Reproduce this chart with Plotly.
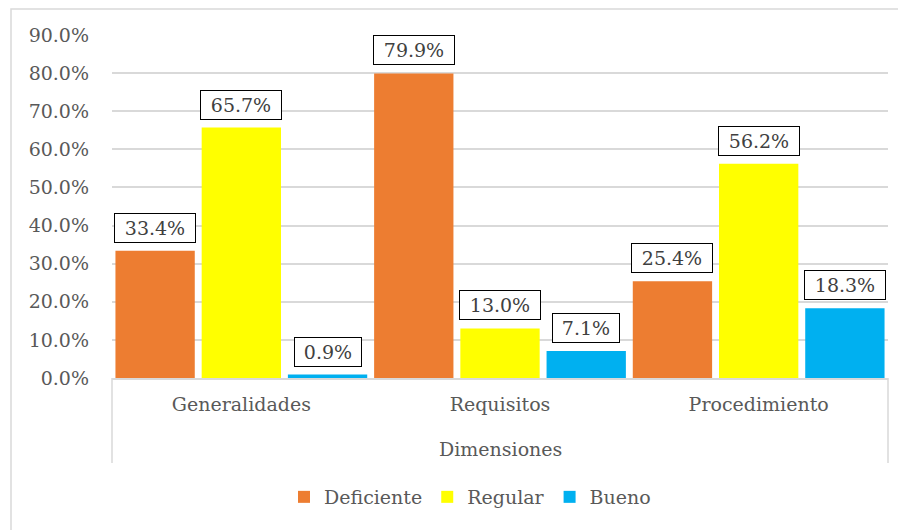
import plotly.graph_objects as go

categories = ["Generalidades", "Requisitos", "Procedimiento"]
deficiente = [0.334, 0.799, 0.254]
regular = [0.657, 0.130, 0.562]
bueno = [0.009, 0.071, 0.183]
series_names = ["Deficiente", "Regular", "Bueno"]
axis_group_label = "Dimensiones"

colors = ["#ED7D31", "#FFFF00", "#00B0F0"]
FONT = "DejaVu Serif"
TXT = "#595959"
FS = 19

# page offset of 8px (body margin)
OFF = 8
PL, PR, PT, PB = 112, 888, 35, 378  # plot box in page pixels
W, H = 906, 530
L = PL - OFF
T = PT - OFF
R = (W + OFF) - PR
B = (H + OFF) - PB
plot_w = PR - PL
plot_h = PB - PT
bargap = 0.0
slot_px = plot_w / len(categories) * (1 - bargap) / 3


def py(page_y):
    return (PB - page_y) / plot_h


def px(page_x):
    return (page_x - PL) / plot_w


fig = go.Figure()
all_series = [deficiente, regular, bueno]
for name, vals, col in zip(series_names, all_series, colors):
    fig.add_trace(go.Bar(x=categories, y=vals, name=name, marker=dict(color=col, line=dict(width=0))))

annotations = []
for si, vals in enumerate(all_series):
    for ci, v in enumerate(vals):
        txt = f"{v*100:.1f}%"
        annotations.append(dict(
            x=categories[ci], y=v, xref="x", yref="y",
            text=txt, showarrow=False, yanchor="bottom",
            xshift=(si - 1) * slot_px, yshift=8,
            font=dict(family=FONT, size=FS, color="#404040"),
            bordercolor="#000000", borderwidth=1, borderpad=3,
            bgcolor="white", width=74 if len(txt) == 5 else 60,
        ))

annotations.append(dict(
    x=0.5, y=py(449), xref="paper", yref="paper",
    text=axis_group_label, showarrow=False, yanchor="middle", xanchor="center",
    font=dict(family=FONT, size=FS, color=TXT),
))

shapes = [
    dict(type="line", xref="paper", yref="paper", x0=0, x1=0, y0=0, y1=py(463),
         line=dict(color="#D9D9D9", width=1.5)),
    dict(type="line", xref="paper", yref="paper", x0=1, x1=1, y0=0, y1=py(463),
         line=dict(color="#D9D9D9", width=1.5)),
    dict(type="rect", xref="paper", yref="paper",
         x0=px(11), x1=px(930),
         y0=py(560), y1=py(9),
         line=dict(color="#D9D9D9", width=1.5), layer="below"),
]

fig.update_layout(
    width=W, height=H,
    margin=dict(l=L, r=R, t=T, b=B),
    paper_bgcolor="white", plot_bgcolor="white",
    barmode="group", bargap=bargap, bargroupgap=0.08,
    font=dict(family=FONT, size=FS, color=TXT),
    showlegend=True,
    legend=dict(orientation="h", x=px(470), xanchor="center",
                y=py(497), yanchor="middle",
                font=dict(family=FONT, size=FS, color=TXT), traceorder="normal"),
    annotations=annotations,
    shapes=shapes,
)
fig.update_xaxes(type="category", showline=True, linecolor="#D9D9D9", linewidth=1.5,
                 ticks="", showgrid=False, tickfont=dict(family=FONT, size=FS, color=TXT),
                 ticklabelstandoff=8)
fig.update_yaxes(range=[0, 0.9], dtick=0.1, tickformat=".1%", showgrid=True,
                 gridcolor="#D9D9D9", gridwidth=1.5, zeroline=False, showline=False,
                 ticks="", tickfont=dict(family=FONT, size=FS, color=TXT),
                 ticklabelstandoff=22)

fig.write_html("out.html")
